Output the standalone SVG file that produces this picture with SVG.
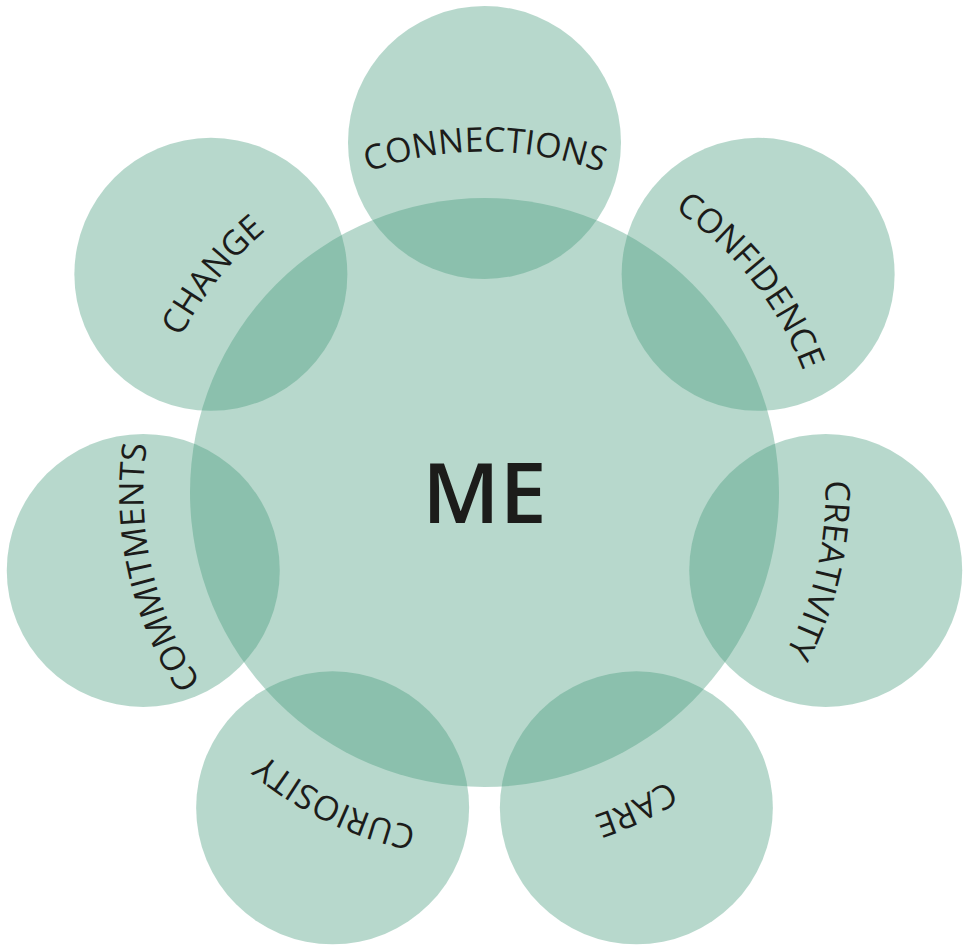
<svg xmlns="http://www.w3.org/2000/svg" xmlns:xlink="http://www.w3.org/1999/xlink" width="968" height="945" viewBox="0 0 968 945">
  <style>
    .disc { fill: #469b7c; fill-opacity: 0.39; }
    .label { font-family: "Open Sans", "Liberation Sans", sans-serif; font-size: 34px; fill: #1c1c1a; }
    .core { font-family: "Open Sans", "Liberation Sans", sans-serif; font-size: 84px; font-weight: 600; fill: #1c1c1a; }
  </style>
  <defs>
    <!-- clockwise ring for the labels, starting at the bottom; r = 341 around the core centre -->
    <path id="ring" d="M 484.5 833.5 A 341 341 0 1 1 484.5 151.5 A 341 341 0 1 1 484.5 833.5" fill="none"/>
  </defs>

  <rect width="968" height="945" fill="#ffffff"/>

  <g id="me">
    <circle class="disc" cx="484.5" cy="492.5" r="294.5"/>
    <text class="core" x="484.5" y="523" text-anchor="middle">ME</text>
  </g>

  <g id="connections">
    <circle class="disc" cx="484.5" cy="142.5" r="136.5"/>
    <text class="label"><textPath xlink:href="#ring" href="#ring" startOffset="1071.29" text-anchor="middle">CONNECTIONS</textPath></text>
  </g>

  <g id="confidence">
    <circle class="disc" cx="758.14" cy="274.28" r="136.5"/>
    <text class="label"><textPath xlink:href="#ring" href="#ring" startOffset="1377.37" text-anchor="middle">CONFIDENCE</textPath></text>
  </g>

  <g id="creativity">
    <circle class="disc" cx="825.73" cy="570.38" r="136.5"/>
    <text class="label"><textPath xlink:href="#ring" href="#ring" startOffset="1683.45" text-anchor="middle">CREATIVITY</textPath></text>
  </g>

  <g id="care">
    <circle class="disc" cx="636.36" cy="807.84" r="136.5"/>
    <text class="label"><textPath xlink:href="#ring" href="#ring" startOffset="1989.53" text-anchor="middle">CARE</textPath></text>
  </g>

  <g id="curiosity">
    <circle class="disc" cx="332.64" cy="807.84" r="136.5"/>
    <text class="label"><textPath xlink:href="#ring" href="#ring" startOffset="153.04" text-anchor="middle">CURIOSITY</textPath></text>
  </g>

  <g id="commitments">
    <circle class="disc" cx="143.27" cy="570.38" r="136.5"/>
    <text class="label"><textPath xlink:href="#ring" href="#ring" startOffset="459.12" text-anchor="middle">COMMITMENTS</textPath></text>
  </g>

  <g id="change">
    <circle class="disc" cx="210.86" cy="274.28" r="136.5"/>
    <text class="label"><textPath xlink:href="#ring" href="#ring" startOffset="765.20" text-anchor="middle">CHANGE</textPath></text>
  </g>

  <g id="connectors"/>
</svg>
